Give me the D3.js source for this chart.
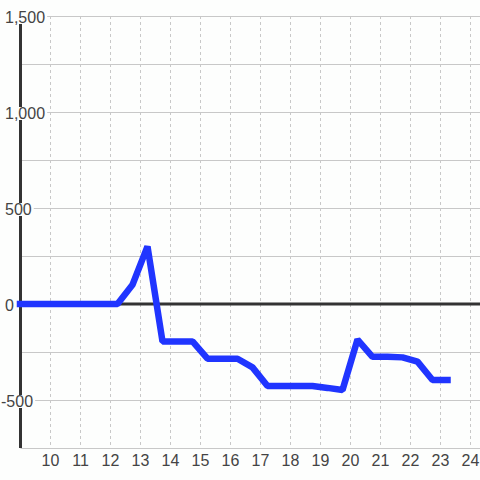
<!DOCTYPE html>
<html>
<head>
<meta charset="utf-8">
<script src="https://cdn.jsdelivr.net/npm/d3@7"></script>
<style>
  body { margin: 0; background: #fdfefd; }
  svg { display: block; font-family: "Liberation Sans", Arial, sans-serif; }
</style>
</head>
<body>
<div class="chart"></div>
<script>
// hours (decimal) and value at each point
var hours = [9, 9.25, 9.75, 10.25, 10.75, 11.25, 11.75, 12.25, 12.75, 13.25,
  13.75, 14.25, 14.75, 15.25, 15.75, 16.25, 16.75, 17.25, 17.75, 18.25,
  18.75, 19.25, 19.75, 20.25, 20.75, 21.25, 21.75, 22.25, 22.75, 23.25];
var values = [0, 0, 0, 0, 0, 0, 0, 0, 100, 300,
  -195, -195, -195, -285, -285, -285, -330, -427, -427, -427,
  -427, -437, -448, -185, -275, -275, -278, -300, -396, -396];
var xTicks = [10, 11, 12, 13, 14, 15, 16, 17, 18, 19, 20, 21, 22, 23, 24];
var yGrid = [-750, -500, -250, 0, 250, 500, 750, 1000, 1250, 1500];
var yLabels = [-500, 0, 500, 1000, 1500];

var svgWidth = 480, svgHeight = 480;
var margin = { left: 20.5, right: 480, top: 16, bottom: 448 };
var fontSize = "16px";

var svg = d3.select(".chart").append("svg")
  .attr("width", svgWidth)
  .attr("height", svgHeight);

var x = d3.scaleLinear().domain([9, 24 + 1 / 3]).range([20, 480]);
var y = d3.scaleLinear().domain([-750, 1500]).range([margin.bottom, margin.top]);

// vertical dotted grid
svg.append("g").selectAll("line")
  .data(xTicks)
  .enter().append("line")
  .attr("x1", d => Math.round(x(d)) + 0.5)
  .attr("x2", d => Math.round(x(d)) + 0.5)
  .attr("y1", margin.top)
  .attr("y2", margin.bottom)
  .attr("stroke", "#c8c8c8")
  .attr("stroke-dasharray", "3,3");

// horizontal grid
svg.append("g").selectAll("line")
  .data(yGrid.filter(d => d !== 0))
  .enter().append("line")
  .attr("x1", margin.left)
  .attr("x2", margin.right)
  .attr("y1", d => Math.round(y(d)) + 0.5)
  .attr("y2", d => Math.round(y(d)) + 0.5)
  .attr("stroke", "#c8c8c8");

// zero line
svg.append("line")
  .attr("x1", margin.left).attr("x2", margin.right)
  .attr("y1", y(0)).attr("y2", y(0))
  .attr("stroke", "#333")
  .attr("stroke-width", 3);

// y axis line
svg.append("line")
  .attr("x1", margin.left).attr("x2", margin.left)
  .attr("y1", margin.top).attr("y2", margin.bottom)
  .attr("stroke", "#333")
  .attr("stroke-width", 3);

// y labels with background boxes
var fmt = d3.format(",");
var yl = svg.append("g").selectAll("g")
  .data(yLabels)
  .enter().append("g")
  .attr("transform", d => `translate(0, ${Math.round(y(d))})`);

var ytext = yl.append("text")
  .attr("x", d => d < 0 ? 1 : 5)
  .attr("dy", 7)
  .attr("fill", "#444")
  .style("font-size", fontSize)
  .text(d => fmt(d).replace("−", "-"));

ytext.each(function(d) {
  var b = this.getBBox();
  d3.select(this.parentNode).insert("rect", "text")
    .attr("x", b.x - 1)
    .attr("y", -5)
    .attr("width", b.width + 3)
    .attr("height", 13)
    .attr("fill", "#fdfefd");
});

// x labels
var xAxis = d3.axisBottom(x).tickValues(xTicks).tickSize(0).tickPadding(0);
var xg = svg.append("g")
  .attr("transform", `translate(0, ${margin.bottom})`)
  .call(xAxis);
xg.select(".domain").remove();
xg.selectAll("text")
  .attr("dy", null)
  .attr("y", 18)
  .attr("fill", "#444")
  .style("font-size", fontSize)
  .style("font-family", "'Liberation Sans', Arial, sans-serif");

// the series line
var pts = hours.map((h, i) => [h, values[i]]);
var line = d3.line().x(d => x(d[0])).y(d => y(d[1]));
svg.append("path")
  .datum(pts)
  .attr("d", line)
  .attr("fill", "none")
  .attr("stroke", "#2035ff")
  .attr("stroke-width", 6.5)
  .attr("stroke-linecap", "square")
  .attr("stroke-linejoin", "bevel");
</script>
</body>
</html>
